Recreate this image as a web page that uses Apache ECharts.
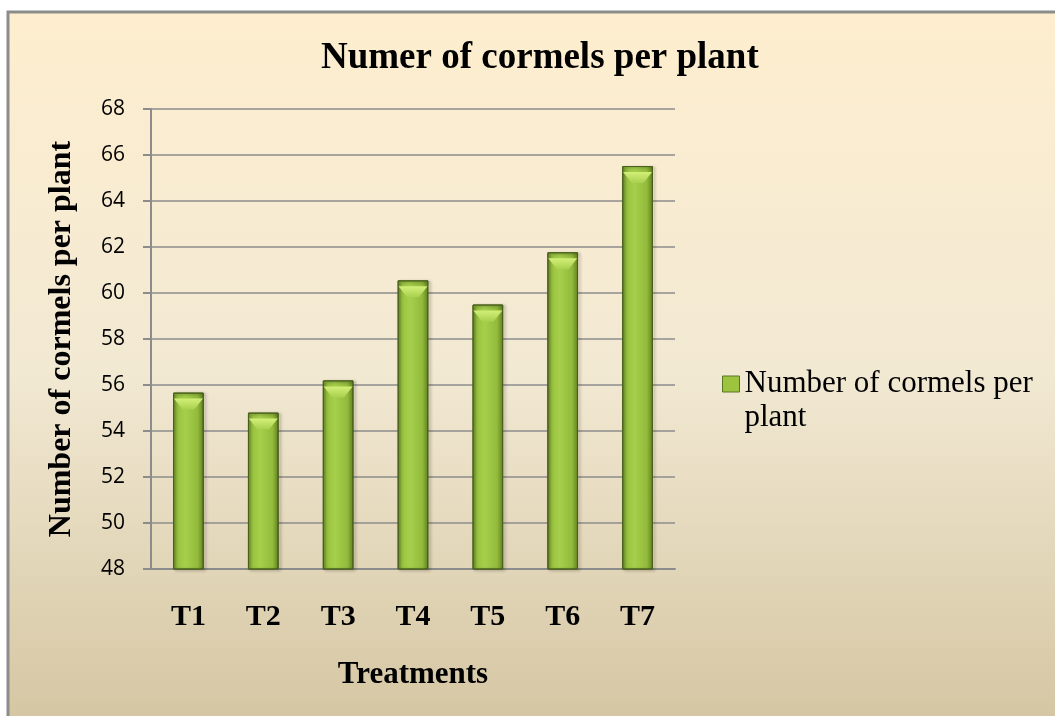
<!DOCTYPE html>
<html>
<head>
<meta charset="utf-8">
<script src="https://cdn.jsdelivr.net/npm/echarts@6/dist/echarts.min.js"></script>
<style>
  body { margin: 0; background: #fff; }
  #container { width: 1055px; height: 716px; }
</style>
</head>
<body>
<div id="container"></div>
<script>
var treatments = ['T1', 'T2', 'T3', 'T4', 'T5', 'T6', 'T7'];
var cormels = [55.67, 54.8, 56.2, 60.55, 59.5, 61.77, 65.52];
var yMin = 48, yMax = 68, yStep = 2;

var dom = document.getElementById('container');
var myChart = echarts.init(dom);

var serif = '"Liberation Serif", "Times New Roman", serif';

// horizontal shading for the bars
var barFill = new echarts.graphic.LinearGradient(0, 0, 1, 0, [
    { offset: 0, color: '#6e8c26' },
    { offset: 0.12, color: '#98c23f' },
    { offset: 0.4, color: '#a6cf4b' },
    { offset: 0.8, color: '#93bb3c' },
    { offset: 1, color: '#627f20' }
]);

var option = {
    backgroundColor: '#ffffff',
    graphic: [
        {
            type: 'rect',
            z: -10,
            silent: true,
            shape: { x: 8, y: 12, width: 1060, height: 720 },
            style: {
                fill: new echarts.graphic.LinearGradient(0, 0, 0, 1, [
                    { offset: 0, color: '#feeecf' },
                    { offset: 0.5, color: '#f2e9d3' },
                    { offset: 1, color: '#d4c5a1' }
                ]),
                stroke: '#8c8c8c',
                lineWidth: 3
            }
        }
    ],
    title: {
        text: 'Numer of cormels per plant',
        left: 316,
        top: 35,
        textStyle: {
            fontFamily: serif,
            fontWeight: 'bold',
            fontSize: 37,
            color: '#000'
        }
    },
    legend: {
        left: 717,
        top: 328,
        data: ['Number of cormels per plant'],
        icon: 'rect',
        itemWidth: 17,
        itemHeight: 16,
        // empty first line keeps the icon level with the first text line
        formatter: '\nNumber of cormels per\nplant',
        itemStyle: { color: '#9cc43f', borderColor: '#5a7524', borderWidth: 1 },
        textStyle: {
            fontFamily: serif,
            fontSize: 31,
            lineHeight: 34,
            color: '#000'
        }
    },
    grid: {
        left: 151,
        right: 380,
        top: 109,
        bottom: 147
    },
    xAxis: {
        type: 'category',
        data: treatments,
        name: 'Treatments',
        nameLocation: 'middle',
        nameGap: 90,
        nameTextStyle: {
            fontFamily: serif,
            fontWeight: 'bold',
            fontSize: 31,
            color: '#000'
        },
        axisLine: { lineStyle: { color: '#8c8c8c', width: 2 } },
        axisTick: { show: false },
        axisLabel: {
            margin: 33,
            fontFamily: serif,
            fontWeight: 'bold',
            fontSize: 30,
            color: '#000'
        }
    },
    yAxis: {
        type: 'value',
        min: yMin,
        max: yMax,
        interval: yStep,
        name: 'Number of cormels per plant',
        nameLocation: 'middle',
        nameRotate: 90,
        nameGap: 73,
        nameTextStyle: {
            fontFamily: serif,
            fontWeight: 'bold',
            fontSize: 32,
            color: '#000'
        },
        axisLine: { show: true, lineStyle: { color: '#8c8c8c', width: 2 } },
        axisTick: { show: true, length: 8, lineStyle: { color: '#8c8c8c', width: 2 } },
        splitLine: { lineStyle: { color: '#8c8c8c', width: 1.5 } },
        axisLabel: {
            margin: 26,
            fontFamily: '"Open Sans", sans-serif',
            fontSize: 21,
            color: '#000'
        }
    },
    series: [
        {
            name: 'Number of cormels per plant',
            type: 'bar',
            data: cormels,
            barWidth: '41%',
            itemStyle: {
                color: barFill,
                borderColor: '#48601a',
                borderWidth: 1,
                shadowColor: 'rgba(0,0,0,0.35)',
                shadowBlur: 3,
                shadowOffsetX: 2,
                shadowOffsetY: 1
            }
        },
        {
            // light bevel at the top of every bar
            name: 'bevel',
            type: 'pictorialBar',
            data: cormels,
            symbol: 'path://M0,0 L30,0 L21,11 L9,11 Z',
            symbolSize: [29, 11],
            symbolPosition: 'end',
            symbolOffset: [0, 6],
            z: 3,
            silent: true,
            itemStyle: {
                color: new echarts.graphic.LinearGradient(0, 0, 0, 1, [
                    { offset: 0, color: '#d2ef78' },
                    { offset: 1, color: '#a9d04e' }
                ])
            }
        }
    ]
};

if (option && typeof option === 'object') {
    myChart.setOption(option, true);
}
</script>
</body>
</html>
